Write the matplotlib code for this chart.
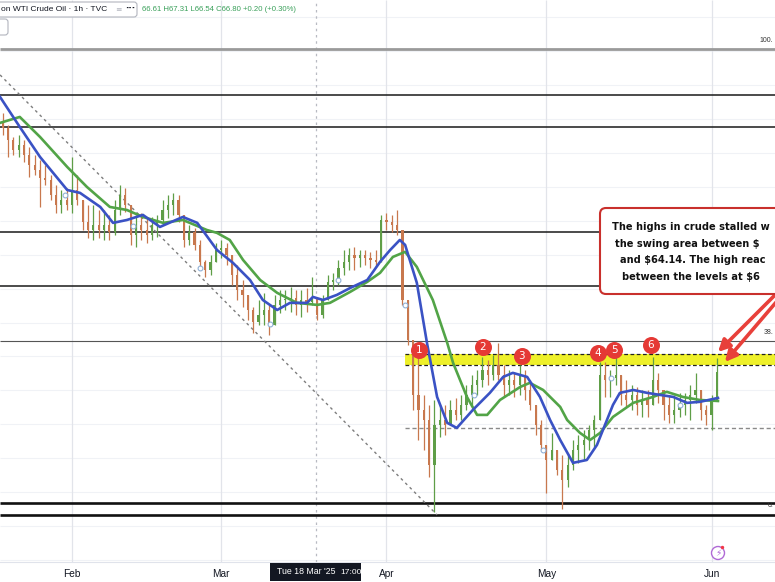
import numpy as np
import matplotlib.pyplot as plt
from matplotlib.patches import FancyBboxPatch, Rectangle, Circle

plt.rcParams['font.family'] = ['DejaVu Sans']

# ---- WTI crude, condensed to one bar per calendar day (day of year 2025, Jan 1 = 0) ----
first_bar_day = 18
first_open = 77.90
bar_high = [78.36, 77.66, 76.95, 77.07, 76.77, 76.36, 75.89, 75.59, 75.30, 74.71,
            74.12, 73.82, 73.94, 75.77, 74.71, 73.05, 72.94, 72.94, 72.64, 72.64,
            72.35, 73.23, 74.12, 73.94, 72.46, 72.35, 72.46, 72.17, 72.23, 72.35,
            73.23, 73.53, 73.64, 73.53, 71.87, 71.76, 71.58, 70.87, 69.69, 69.99,
            70.69, 70.87, 70.69, 69.99, 69.40, 68.51, 67.63, 66.92, 67.33, 67.74,
            67.04, 67.63, 67.92, 67.92, 68.10, 67.92, 67.92, 68.04, 68.69, 67.33,
            67.63, 68.81, 68.92, 69.69, 70.28, 70.40, 70.46, 70.28, 70.28, 70.16,
            70.28, 72.35, 72.46, 72.35, 72.64, 71.17, 67.33, 64.97, 63.97, 61.73,
            61.14, 61.43, 61.14, 61.14, 61.43, 61.55, 61.73, 62.32, 62.91, 63.20,
            63.97, 63.79, 64.09, 64.79, 63.50, 63.20, 63.08, 63.50, 63.20, 62.61,
            61.14, 60.25, 58.78, 59.48, 58.48, 58.19, 58.19, 59.07, 59.37, 59.66,
            59.96, 60.55, 63.67, 63.67, 63.20, 63.97, 62.91, 62.61, 62.32, 62.20,
            62.02, 62.02, 63.97, 63.02, 62.02, 61.73, 61.73, 61.84, 61.84, 62.32,
            63.02, 61.43, 61.14, 61.73, 63.91]
bar_low = [77.07, 75.77, 75.89, 75.77, 75.47, 74.59, 74.71, 72.82, 74.12, 73.23,
           72.46, 72.46, 72.64, 72.46, 72.94, 71.46, 70.99, 70.87, 70.99, 70.87,
           70.87, 71.17, 72.35, 72.52, 70.58, 70.46, 70.87, 70.69, 70.87, 71.05,
           71.76, 72.17, 72.35, 71.93, 70.46, 70.58, 70.28, 69.10, 68.69, 68.81,
           69.57, 69.81, 69.40, 68.22, 67.33, 66.92, 66.15, 65.38, 65.86, 65.86,
           65.27, 66.27, 66.56, 66.74, 66.62, 66.45, 66.33, 66.62, 67.04, 66.15,
           66.27, 67.80, 67.92, 68.22, 68.81, 69.10, 69.10, 69.28, 69.40, 69.22,
           69.28, 69.57, 71.46, 71.34, 71.17, 67.04, 64.68, 60.84, 59.07, 58.48,
           56.89, 54.80, 59.25, 59.37, 59.96, 60.25, 60.25, 60.84, 61.14, 61.73,
           62.20, 62.32, 62.61, 62.61, 61.61, 61.73, 61.61, 61.73, 61.43, 60.84,
           59.37, 58.48, 55.94, 57.89, 57.01, 55.00, 56.30, 57.30, 57.71, 57.89,
           58.48, 58.66, 60.25, 61.61, 61.61, 62.32, 61.14, 61.02, 60.84, 60.55,
           60.43, 60.43, 61.43, 61.25, 60.25, 60.07, 60.07, 60.43, 60.55, 60.25,
           61.25, 60.25, 59.96, 59.66, 61.43]
bar_close = [77.48, 76.77, 76.18, 76.48, 75.89, 75.30, 75.00, 74.53, 74.41, 73.53,
             72.94, 73.23, 72.94, 73.82, 73.23, 71.93, 71.46, 71.76, 71.46, 71.76,
             71.34, 72.64, 73.53, 72.94, 71.17, 71.76, 71.46, 71.17, 71.76, 72.05,
             72.64, 72.94, 73.23, 72.35, 70.87, 71.34, 70.58, 69.57, 69.10, 69.57,
             70.28, 70.40, 69.99, 68.81, 67.92, 67.63, 66.74, 66.03, 66.45, 66.74,
             65.86, 67.04, 67.33, 67.33, 67.45, 67.04, 67.33, 67.21, 67.45, 66.45,
             67.33, 68.39, 68.51, 69.22, 69.57, 69.99, 69.81, 69.99, 69.81, 69.69,
             69.57, 72.05, 71.93, 71.76, 71.46, 67.33, 64.97, 61.73, 60.84, 60.25,
             57.60, 59.96, 60.25, 59.96, 60.84, 60.55, 61.14, 61.73, 62.32, 62.61,
             63.20, 62.91, 63.50, 62.91, 62.32, 62.61, 62.32, 62.91, 62.02, 61.14,
             59.96, 58.78, 57.89, 58.48, 57.30, 56.71, 57.60, 58.48, 58.78, 59.07,
             59.66, 60.25, 62.91, 62.61, 62.73, 62.91, 61.73, 61.43, 61.73, 61.14,
             61.43, 61.14, 62.61, 62.02, 61.14, 60.55, 60.84, 61.14, 61.43, 61.73,
             62.02, 60.84, 60.55, 61.43, 63.08]

# 100-hour (blue) and 200-hour (green) moving averages
fast_ma_days = [17.5, 21.2, 25.0, 30.1, 32.5, 36.3, 38.7, 41.3, 44.3, 47.5,
                51.8, 54.5, 58.2, 61.2, 64.4, 66.8, 69.5, 71.9, 75.1, 76.2,
                78.1, 80.7, 83.2, 86.4, 88.8, 90.7, 92.5, 93.5, 95.7, 97.6,
                99.5, 101.4, 103.2, 106.2, 109.4, 111.9, 113.7, 116.4, 118.8, 120.7,
                122.6, 125.0, 127.6, 129.5, 131.0, 132.5, 133.8, 136.3, 138.9, 141.3,
                143.8, 146.4, 148.8, 152.2]
fast_ma = [79.31, 77.54, 75.77, 73.82, 73.65, 72.82, 71.88, 72.05, 72.35, 71.64,
           72.23, 71.88, 70.28, 69.52, 68.51, 67.33, 66.74, 67.16, 67.16, 67.51,
           67.33, 67.63, 68.04, 68.51, 69.58, 70.28, 70.87, 70.58, 68.34, 64.80,
           61.61, 60.08, 59.78, 60.84, 61.85, 62.79, 63.03, 62.79, 61.61, 60.25,
           59.07, 57.72, 57.89, 58.78, 59.96, 61.14, 61.85, 62.02, 61.85, 61.73,
           61.61, 61.26, 61.32, 61.55]
slow_ma_days = [17.5, 21.2, 25.0, 30.1, 33.8, 38.1, 41.3, 44.3, 48.1, 51.8,
                56.3, 58.2, 60.6, 63.1, 66.3, 69.5, 73.2, 77.0, 79.4, 83.2,
                86.4, 88.8, 91.2, 93.5, 95.7, 98.7, 101.4, 102.5, 105.1, 107.0,
                108.9, 111.3, 115.1, 116.9, 119.4, 122.6, 123.9, 126.3, 128.2, 130.1,
                132.5, 136.3, 140.0, 142.6, 145.6, 148.8, 152.2]
slow_ma = [77.78, 78.13, 76.95, 75.18, 74.00, 72.82, 72.64, 72.23, 71.88, 72.05,
           71.46, 71.29, 70.87, 69.69, 68.51, 67.75, 67.16, 67.04, 67.16, 67.81,
           68.40, 68.93, 69.87, 70.17, 69.28, 67.33, 64.80, 63.62, 61.61, 60.55,
           60.55, 61.43, 62.20, 62.44, 62.02, 61.02, 60.25, 59.49, 59.07, 59.49,
           60.43, 61.26, 61.61, 61.91, 61.61, 61.43, 61.37]

# drawn levels
solid_levels = [79.43, 77.54, 71.34, 68.16]
heavy_levels = [55.35, 54.65]
fib_names = ['100.', '38.', '0.']
fib_prices = [82.14, 64.91, 54.65]
fib_label_prices = [82.45, 65.22, 55.00]
band_low, band_high = 63.50, 64.14
band_start_day = 93.4
support_level = 59.78
grid_prices = [84, 82, 80, 78, 76, 74, 72, 70, 68, 66, 64, 62, 60, 58, 56, 54, 52]

# swing highs into the 63.50-64.14 area
swing_days = [96.1, 108.1, 115.4, 129.7, 132.7, 139.6]
swing_prices = [64.38, 64.56, 64.03, 64.20, 64.38, 64.68]
swing_labels = ['1', '2', '3', '4', '5', '6']

# small event markers on the price
event_days = [29.7, 42.4, 55.0, 68.1, 80.9, 93.5, 106.4, 119.4, 132.1, 145.1]
event_prices = [73.53, 71.70, 69.22, 65.89, 68.51, 67.04, 61.73, 58.48, 62.73, 61.14]

# falling trend line from the January high
trend_days = [17.5, 99.5]
trend_prices = [80.61, 54.65]

month_days = [31, 59, 90, 120, 151]
month_labels = ['Feb', 'Mar', 'Apr', 'May', 'Jun']
cursor_day = 76.7

# last-price arrows point at the latest high
arrow_days = [152.2, 153.5]
arrow_prices = [64.26, 63.67]

UP, DOWN = '#5f9e47', '#c8784e'
BLUE, GREEN = '#3a52c4', '#52a447'
UI_FONT = ['Liberation Sans', 'DejaVu Sans']

W, H = 775, 582
fig = plt.figure(figsize=(W / 100, H / 100), dpi=100)
fig.patch.set_facecolor('white')
ax = fig.add_axes([0, 20 / H, 1, 562 / H])
x0, x1 = 17.49, 162.9
ax.set_xlim(x0, x1)
ax.set_ylim(51.87, 85.03)
for s in ['left', 'right', 'top']:
    ax.spines[s].set_visible(False)
ax.spines['bottom'].set_color('#e0e3eb')
ax.set_yticks([])
ax.set_xticks(month_days)
ax.set_xticklabels(month_labels, fontsize=7.3, color='#131722', family=UI_FONT)
ax.tick_params(axis='x', length=0, pad=5)

# grid
ax.hlines(grid_prices, x0, x1, colors='#f0f2f6', lw=0.8, zorder=0)
ax.vlines(month_days, 51.87, 85.03, colors='#e2e4ea', lw=0.9, zorder=0)
ax.vlines([cursor_day], 51.87, 85.03, colors='#b8bac2', lw=0.9,
          linestyles=[(0, (2, 3))], zorder=1)

# levels
ax.fill_between([band_start_day, x1], band_low, band_high, color='#eef02a', zorder=1, lw=0)
ax.hlines([band_low, band_high], band_start_day, x1, colors='#222222', lw=0.9,
          linestyles=[(0, (3, 2))], zorder=2)
ax.hlines([support_level], band_start_day, x1, colors='#8a8a8a', lw=1.0,
          linestyles=[(0, (3, 2))], zorder=2)
ax.hlines(solid_levels, x0, x1, colors='#1a1a1a', lw=1.1, zorder=2)
ax.hlines(heavy_levels, x0, x1, colors='#111111', lw=1.9, zorder=2)
ax.hlines([fib_prices[0]], x0, x1, colors='#9a9a9a', lw=2.0, zorder=2)
ax.hlines([fib_prices[1]], x0, x1, colors='#555555', lw=0.8, zorder=2)
for name, p in zip(fib_names, fib_label_prices):
    ax.text(x1 - 0.35, p, name, fontsize=5, color='#333333', va='bottom', ha='right',
            family=UI_FONT, zorder=4)

# trend line
ax.plot(trend_days, trend_prices, color='#7d7d7d', lw=1.0, ls=(0, (2, 2.5)), zorder=2)

# candles
close = np.array(bar_close)
high = np.array(bar_high)
low = np.array(bar_low)
days = first_bar_day + np.arange(len(close))
opens = np.concatenate([[first_open], close[:-1]])
colors = np.where(close >= opens, UP, DOWN)
wick_hi = np.maximum(high, np.maximum(opens, close))
wick_lo = np.minimum(low, np.minimum(opens, close))
ax.vlines(days, wick_lo, wick_hi, colors=colors, lw=0.9, zorder=3)
body = np.maximum(np.abs(close - opens), 0.06)
ax.bar(days, body, bottom=np.minimum(opens, close), width=0.42, color=colors,
       lw=0, zorder=3)

# moving averages
ax.plot(slow_ma_days, slow_ma, color=GREEN, lw=1.9, solid_joinstyle='round', zorder=4)
ax.plot(fast_ma_days, fast_ma, color=BLUE, lw=1.9, solid_joinstyle='round', zorder=4)

ax.scatter(event_days, event_prices, s=12, facecolor='white', edgecolor='#8fb0d6',
           lw=0.8, zorder=5)

# swing markers
ax.scatter(swing_days, swing_prices, s=150, color='#e53935', zorder=6, lw=0)
for d, p, t in zip(swing_days, swing_prices, swing_labels):
    ax.text(d, p, t, color='white', fontsize=7.5, ha='center', va='center', zorder=7)

# arrows
tails = [(790, H - 280), (790, H - 286)]
for d, p, tail in zip(arrow_days, arrow_prices, tails):
    ax.annotate('', xy=(d, p), xytext=tail, textcoords='figure pixels',
                arrowprops=dict(arrowstyle='-|>,head_length=0.7,head_width=0.35',
                                color='#e8403a', lw=2.6, shrinkA=0, shrinkB=0),
                zorder=6, annotation_clip=False)

# ---- overlay in pixel units for the chart chrome ----
ov = fig.add_axes([0, 0, 1, 1], zorder=5)
ov.set_xlim(0, W)
ov.set_ylim(H, 0)
ov.axis('off')
ov.patch.set_alpha(0)

# commentary box (runs past the right edge of the chart)
ov.add_patch(FancyBboxPatch((600, 208), 260, 86,
                            boxstyle='round,pad=0,rounding_size=6',
                            fc='white', ec='#c9302c', lw=1.5))
note_lines = ['The highs in crude stalled w',
              'the swing area between $',
              'and $64.14. The high reac',
              'between the levels at $6']
note_x = [612, 615, 620, 622]
note_y = [227, 244, 260, 277]
for t, x, y in zip(note_lines, note_x, note_y):
    ov.text(x, y, t, fontsize=7.1, fontweight='bold', color='#111111',
            ha='left', va='center')

# header legend
ov.add_patch(FancyBboxPatch((-6, 2), 143, 15, boxstyle='round,pad=0,rounding_size=3',
                            fc='white', ec='#b2b5be', lw=0.8))
ov.text(1, 9.5, 'on WTI Crude Oil · 1h · TVC', fontsize=6.0, color='#131722',
        ha='left', va='center', family=UI_FONT)
ov.text(118, 9.5, '≡', fontsize=5.5, color='#b2b5be', ha='center', va='center')
ov.text(130, 9.5, '···', fontsize=6.5, color='#131722', ha='center', va='center',
        fontweight='bold')
ov.text(142, 9.5, '66.61 H67.31 L66.54 C66.80 +0.20 (+0.30%)', fontsize=5.6,
        color='#3aa05a', ha='left', va='center', family=UI_FONT)
ov.add_patch(FancyBboxPatch((-6, 19), 14, 16, boxstyle='round,pad=0,rounding_size=3',
                            fc='white', ec='#b2b5be', lw=0.8))

# crosshair time label
ov.add_patch(Rectangle((270, 563), 91, 18, fc='#131722', ec='none'))
ov.text(277, 572, "Tue 18 Mar '25", fontsize=6.3, color='white', ha='left', va='center',
        family=UI_FONT)
ov.text(340, 572, '17:00', fontsize=6.1, color='white', ha='left', va='center',
        family=UI_FONT)

# alert icon
ov.add_patch(Circle((718, 553), 6.5, fc='white', ec='#b06ad6', lw=1.0))
ov.text(718, 553.5, '⚡', fontsize=6.5, color='#b06ad6', ha='center', va='center')
ov.add_patch(Circle((722.5, 547.5), 1.7, fc='#f23645', ec='none'))

fig.savefig('out.png', dpi=100, facecolor='white')
